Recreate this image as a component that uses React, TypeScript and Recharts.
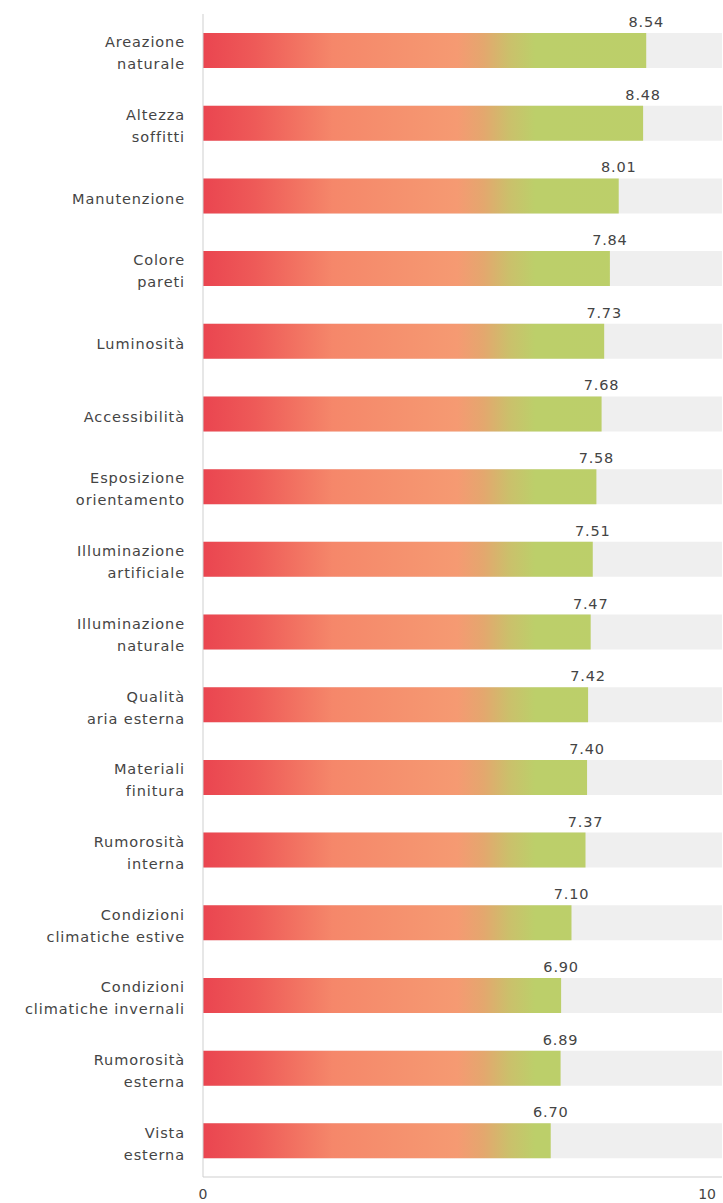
import React from 'react';
import { BarChart, Bar, XAxis, YAxis, LabelList } from 'recharts';

const categories = [
  'Areazione\nnaturale',
  'Altezza\nsoffitti',
  'Manutenzione',
  'Colore\npareti',
  'Luminosità',
  'Accessibilità',
  'Esposizione\norientamento',
  'Illuminazione\nartificiale',
  'Illuminazione\nnaturale',
  'Qualità\naria esterna',
  'Materiali\nfinitura',
  'Rumorosità\ninterna',
  'Condizioni\nclimatiche estive',
  'Condizioni\nclimatiche invernali',
  'Rumorosità\nesterna',
  'Vista\nesterna',
];

const scores = [8.54, 8.48, 8.01, 7.84, 7.73, 7.68, 7.58, 7.51, 7.47, 7.42, 7.4, 7.37, 7.1, 6.9, 6.89, 6.7];

const axisTicks = [0, 10];

const data = categories.map((name, i) => ({ name, score: scores[i] }));

const FONT = '"DejaVu Sans", sans-serif';

const CategoryTick = ({ x, y, payload }: any) => {
  const lines = String(payload.value).split('\n');
  const lh = 22;
  const startY = y - ((lines.length - 1) * lh) / 2 + 8;
  return (
    <text x={x - 10} y={startY} textAnchor="end" fill="#444" fontSize={14.5} letterSpacing={0.9} fontFamily={FONT}>
      {lines.map((l: string, i: number) => (
        <tspan key={i} x={x - 10} y={startY + i * lh}>
          {l}
        </tspan>
      ))}
    </text>
  );
};

const ValueTick = ({ x, y, payload }: any) => {
  const last = payload.value === axisTicks[axisTicks.length - 1];
  return (
    <text x={last ? x + 1 : x} y={y + 14} textAnchor={last ? 'end' : 'middle'} fill="#444" fontSize={14} fontFamily={FONT}>
      {payload.value}
    </text>
  );
};

const ValueLabel = ({ x, y, width, value }: any) => (
  <text x={x + width} y={y - 6} textAnchor="middle" fill="#444" fontSize={14.5} letterSpacing={0.8} fontFamily={FONT}>
    {Number(value).toFixed(2)}
  </text>
);

export default function App() {
  return (
    <div style={{ position: 'absolute', left: 0, top: 0, width: 723, height: 1203, background: '#fff', fontFamily: FONT }}>
      <BarChart
        width={723}
        height={1203}
        data={data}
        layout="vertical"
        margin={{ top: 14, right: 1, left: 0, bottom: 0 }}
      >
        <defs>
          <linearGradient id="barGrad" gradientUnits="userSpaceOnUse" x1={203} y1={0} x2={722} y2={0}>
            <stop offset="0%" stopColor="#ea4550" />
            <stop offset="10%" stopColor="#ee5a58" />
            <stop offset="25%" stopColor="#f5876a" />
            <stop offset="49%" stopColor="#f59a72" />
            <stop offset="54%" stopColor="#e4a76e" />
            <stop offset="59%" stopColor="#cbc06b" />
            <stop offset="64%" stopColor="#bccf6a" />
            <stop offset="100%" stopColor="#bccf69" />
          </linearGradient>
        </defs>
        <XAxis
          type="number"
          domain={[0, 10]}
          ticks={axisTicks}
          height={26}
          axisLine={{ stroke: '#cfcfcf' }}
          tickLine={false}
          tick={<ValueTick />}
        />
        <YAxis
          type="category"
          dataKey="name"
          width={203}
          axisLine={{ stroke: '#cfcfcf' }}
          tickLine={false}
          tick={<CategoryTick />}
          interval={0}
        />
        <Bar
          dataKey="score"
          barSize={35}
          fill="url(#barGrad)"
          background={{ fill: '#efefef' }}
          isAnimationActive={false}
        >
          <LabelList dataKey="score" content={<ValueLabel />} />
        </Bar>
      </BarChart>
    </div>
  );
}
